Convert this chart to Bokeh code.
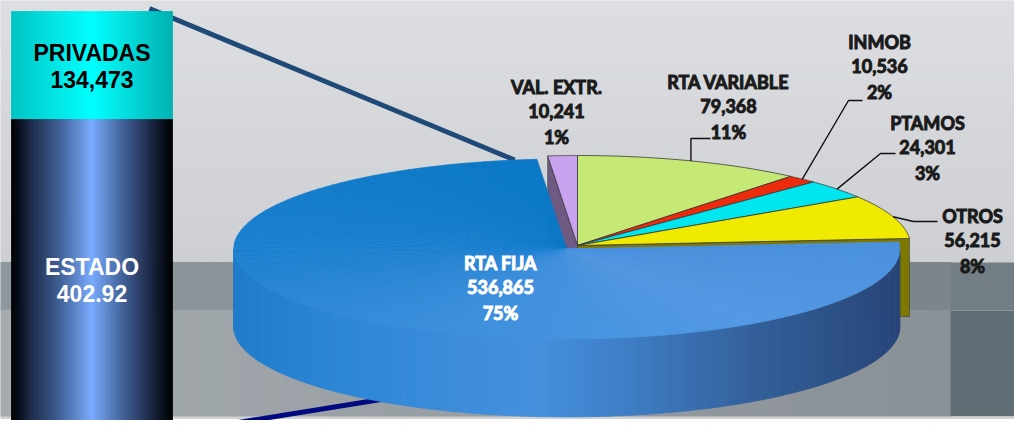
import numpy as np
from bokeh.plotting import figure
from bokeh.models import Range1d
from bokeh.embed import file_html
from bokeh.resources import INLINE
from bokeh.core.properties import value

# ---------------- data ----------------
slice_labels = ["RTA VARIABLE", "INMOB", "PTAMOS", "OTROS", "RTA FIJA", "VAL. EXTR."]
slice_values = [79368, 10536, 24301, 56215, 536865, 10241]
slice_pct_labels = ["11%", "2%", "3%", "8%", "75%", "1%"]

bar_labels = ["PRIVADAS", "ESTADO"]
bar_values = [134473, 402920]
bar_value_labels = ["134,473", "402.92"]

# ---------------- styles / layout ----------------
top_colors = ["#c6e874", "#ec2a0c", "#00e6ee", "#f0ea00", None, "#c8a2ee"]
cut_colors = ["#7d8f4a", "#8a1a08", "#008a90", "#7f7800", "#2a5a95", "#6e5a82"]
explode = [0, 0, 0, 0, 0.05, 0]
CX, CY, RX, RY, DEPTH = 577.0, 245.0, 333.0, 90.0, 78.0

label_pos = {"VAL. EXTR.": (556, 86), "RTA VARIABLE": (728, 81), "INMOB": (879, 41),
             "PTAMOS": (927, 122), "OTROS": (972, 215), "RTA FIJA": (500, 262)}
leader_path = {"RTA VARIABLE": [(None, 138), (710, 138)],
               "INMOB": [(848, 100), (862, 100)],
               "PTAMOS": [(880, 153), (895, 153)],
               "OTROS": [(913, 221), (937, 221)]}

BAR_X0, BAR_X1, BAR_TOP = 11.0, 172.0, 11.0
BAR_PX_PER_UNIT = 108.0 / 134473.0

W, H = 1014, 420


def hex2rgb(h):
    return np.array([int(h[i:i + 2], 16) for i in (1, 3, 5)], float)


def grad(stops, t):
    t = min(max(t, 0.0), 1.0)
    for i in range(len(stops) - 1):
        t0, c0 = stops[i]
        t1, c1 = stops[i + 1]
        if t0 <= t <= t1:
            u = (t - t0) / (t1 - t0) if t1 > t0 else 0.0
            c = hex2rgb(c0) * (1 - u) + hex2rgb(c1) * u
            return "#%02x%02x%02x" % tuple(int(round(v)) for v in c)
    return stops[-1][1]


p = figure(width=W, height=H, x_range=Range1d(0, W), y_range=Range1d(H, 0),
           output_backend="svg", toolbar_location=None, min_border=0,
           x_axis_location=None, y_axis_location=None)
p.grid.visible = False
p.outline_line_color = None
p.background_fill_color = "white"
p.border_fill_color = "white"

# ---------------- background ----------------
n = 40
ys = np.linspace(0, 262, n + 1)
cols = [grad([(0, "#dcdee1"), (1, "#cdcfd2")], i / (n - 1)) for i in range(n)]
p.quad(left=0, right=W, top=ys[:-1], bottom=ys[1:], fill_color=cols, line_color=cols, line_width=1)

xs = np.linspace(0, 950, 48)
c1 = [grad([(0, "#8e979d"), (1, "#7b858b")], i / 46) for i in range(47)]
c2 = [grad([(0, "#a4aaae"), (1, "#8a9196")], i / 46) for i in range(47)]
p.quad(left=xs[:-1], right=xs[1:], top=262, bottom=310, fill_color=c1, line_color=c1, line_width=1)
p.quad(left=xs[:-1], right=xs[1:], top=310, bottom=416, fill_color=c2, line_color=c2, line_width=1)
p.quad(left=950, right=W, top=262, bottom=310, fill_color="#737e84", line_color=None)
p.quad(left=950, right=W, top=310, bottom=416, fill_color="#5f6d74", line_color=None)
p.quad(left=0, right=W, top=416, bottom=418.5, fill_color="#cfd1d3", line_color=None)

# ---------------- pie geometry ----------------
vals = np.array(slice_values, float)
fr = vals / vals.sum()
cum = np.concatenate([[0], np.cumsum(fr)])
a_end = 90 - 360 * cum[:-1]
a_start = 90 - 360 * cum[1:]
mid = (a_start + a_end) / 2
offs = [(explode[i] * RX * np.cos(np.radians(mid[i])), -explode[i] * RY * np.sin(np.radians(mid[i])))
        for i in range(len(vals))]


def rim(a, off, dz=0.0):
    r = np.radians(a)
    return CX + off[0] + RX * np.cos(r), CY + off[1] - RY * np.sin(r) + dz


blue = slice_labels.index("RTA FIJA")

# connector lines from the bar (drawn behind the pie)
bar_bottom = BAR_TOP + sum(bar_values) * BAR_PX_PER_UNIT
tx, ty = rim(99, offs[blue])
p.line([BAR_X1 - 23, tx], [BAR_TOP - 3, ty], line_color="#1f4a78", line_width=5)
p.line([BAR_X1, 430], [bar_bottom - 10, 391], line_color="#000a80", line_width=5)

# cut faces
faces = []
for i in range(len(vals)):
    off = offs[i]
    cxo, cyo = CX + off[0], CY + off[1]
    for a, vis in ((a_start[i], np.cos(np.radians(a_start[i])) > 0),
                   (a_end[i], np.cos(np.radians(a_end[i])) < 0)):
        if not vis:
            continue
        rx_, ry_ = rim(a, off)
        key = cyo - 0.5 * RY * np.sin(np.radians(a))
        faces.append((key, [cxo, rx_, rx_, cxo], [cyo, ry_, ry_ + DEPTH, cyo + DEPTH], cut_colors[i]))
faces.sort(key=lambda f: f[0])
p.patches([f[1] for f in faces], [f[2] for f in faces], fill_color=[f[3] for f in faces],
          line_color="#3a3a3a", line_width=0.6)

# outer walls (front-facing parts)
wall_stops = [(0, "#1f7ccb"), (0.2, "#3088d8"), (0.45, "#4590de"), (0.58, "#3f80c8"),
              (0.78, "#33609a"), (1, "#27457a")]
wxs, wys, wcs = [], [], []
for i in range(len(vals)):
    for n0 in (-540, -180, 180, 540):
        lo, hi = max(a_start[i], n0), min(a_end[i], n0 + 180)
        if hi <= lo:
            continue
        m = max(4, int((hi - lo) / 1.5))
        angs = np.linspace(lo, hi, m + 1)
        for k in range(m):
            x0, y0 = rim(angs[k], offs[i])
            x1, y1 = rim(angs[k + 1], offs[i])
            wxs.append([x0, x1, x1, x0])
            wys.append([y0, y1, y1 + DEPTH, y0 + DEPTH])
            t = ((x0 + x1) / 2 - (CX + offs[i][0] - RX)) / (2 * RX)
            wcs.append(grad(wall_stops, t) if i == blue else cut_colors[i])
p.patches(wxs, wys, fill_color=wcs, line_color=wcs, line_width=0.7)

# top faces
top_stops = [(0, "#0a78c6"), (0.3, "#1a80cf"), (0.55, "#3a8edc"), (0.78, "#5499e5"), (1, "#4a91e0")]
fxs, fys, fcs = [], [], []
for i in range(len(vals)):
    if i == blue:
        continue
    angs = np.linspace(a_start[i], a_end[i], 60)
    pts = [rim(a, offs[i]) for a in angs]
    fxs.append([CX + offs[i][0]] + [q[0] for q in pts])
    fys.append([CY + offs[i][1]] + [q[1] for q in pts])
    fcs.append(top_colors[i])
p.patches(fxs, fys, fill_color=fcs, line_color="#3a3a3a", line_width=0.8)

m = 150
angs = np.linspace(a_start[blue], a_end[blue], m + 1)
bxs, bys, bcs = [], [], []
cxo, cyo = CX + offs[blue][0], CY + offs[blue][1]
for k in range(m):
    x0, y0 = rim(angs[k], offs[blue])
    x1, y1 = rim(angs[k + 1], offs[blue])
    bxs.append([cxo, x0, x1])
    bys.append([cyo, y0, y1])
    bcs.append(grad(top_stops, (k + 0.5) / m))
p.patches(bxs, bys, fill_color=bcs, line_color=bcs, line_width=0.7)

# leader lines
lx, ly = [], []
for name, path in leader_path.items():
    i = slice_labels.index(name)
    sx, sy = rim(mid[i], offs[i])
    pts = [(sx, sy)] + [((sx if q[0] is None else q[0]), q[1]) for q in path]
    lx.append([q[0] for q in pts])
    ly.append([q[1] for q in pts])
p.multi_line(lx, ly, line_color="#111111", line_width=1.4)

# pie labels
tx_, ty_, tt_, tc_ = [], [], [], []
for i, name in enumerate(slice_labels):
    x0, y0 = label_pos[name]
    lines = [name, f"{slice_values[i]:,}", slice_pct_labels[i]]
    for j, (s, dy) in enumerate(zip(lines, (0, 24, 50))):
        tx_.append(x0)
        ty_.append(y0 + dy)
        tt_.append(s)
        tc_.append("#ffffff" if name == "RTA FIJA" else "#1a1a1a")
p.text(x=tx_, y=ty_, text=tt_, text_color=tc_, text_outline_color=tc_, text_font=value("Lato"),
       text_font_style="bold", text_font_size="18px", text_align="center", text_baseline="middle")

# ---------------- stacked bar ----------------
bar_stops = [
    [(0, "#00c4c4"), (0.5, "#00ffff"), (1, "#00b2b2")],
    [(0, "#000000"), (0.06, "#0b1120"), (0.12, "#1c2a48"), (0.3, "#3f5f95"), (0.5, "#7aacff"),
     (0.7, "#3f5f95"), (0.8, "#2b3e66"), (0.92, "#0e1628"), (1, "#000000")],
]
top = BAR_TOP
bqx0, bqx1, bqt, bqb, bqc = [], [], [], [], []
for s, v in enumerate(bar_values):
    h = v * BAR_PX_PER_UNIT
    nstr = 80
    edges = np.linspace(BAR_X0, BAR_X1, nstr + 1)
    for k in range(nstr):
        bqx0.append(edges[k]); bqx1.append(edges[k + 1])
        bqt.append(top); bqb.append(top + h)
        bqc.append(grad(bar_stops[s], (k + 0.5) / nstr))
    top += h
p.quad(left=bqx0, right=bqx1, top=bqt, bottom=bqb, fill_color=bqc, line_color=bqc, line_width=0.8)

bar_text_y = [52, 266]
btx, bty, btt, btc = [], [], [], []
for s in range(len(bar_values)):
    for j, txt in enumerate([bar_labels[s], bar_value_labels[s]]):
        btx.append((BAR_X0 + BAR_X1) / 2)
        bty.append(bar_text_y[s] + 27 * j)
        btt.append(txt)
        btc.append("#000000" if s == 0 else "#ffffff")
p.text(x=btx, y=bty, text=btt, text_color=btc, text_font=value("Liberation Sans"), text_font_style="bold",
       text_font_size="23px", text_align="center", text_baseline="middle")

open("out.html", "w").write(file_html(p, INLINE))
